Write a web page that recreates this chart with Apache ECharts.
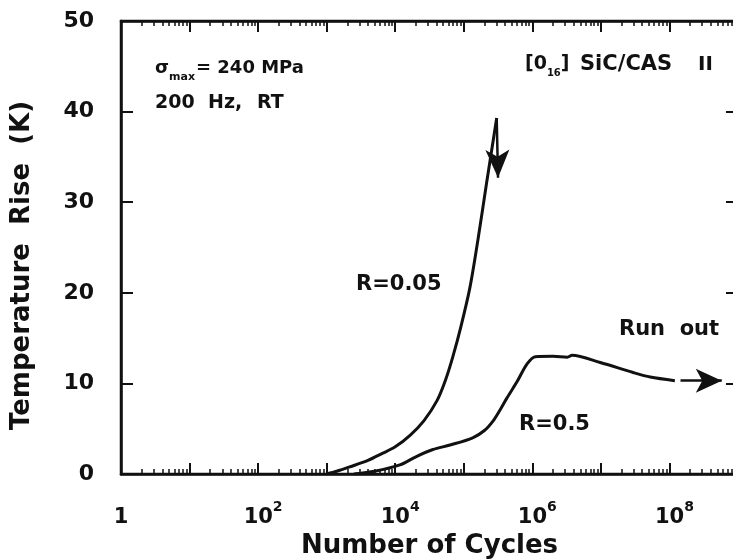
<!DOCTYPE html>
<html><head><meta charset="utf-8">
<script src="https://cdn.jsdelivr.net/npm/echarts@6/dist/echarts.min.js"></script>
<style>html,body{margin:0;padding:0;background:#fff}#c{width:733px;height:560px}</style>
</head><body><div id="c"></div>
<script>
// ---- data ----
const cyclesR005 = [1000, 1400, 2200, 4000, 6600, 10000, 16600, 26300, 40700, 53700, 69000, 91000, 123000, 162000, 214000, 302000];
const tempR005   = [0,    0.3,  0.8,  1.5,  2.3,  3.0,   4.3,   5.9,   8.1,   10.3,  12.9,  16.3,  20.6,   26.0,   32.0,   39.3];
const cyclesR05  = [2500, 5000, 11700, 20000, 35500, 63000, 135000, 200000, 270000, 340000, 427000, 600000, 830000, 1100000, 2000000, 3240000, 3800000, 9800000, 29500000, 52500000, 120000000];
const tempR05    = [0,    0.3,  1.0,   1.9,   2.7,   3.2,   4.0,    4.8,    5.9,    7.1,    8.4,    10.2,   12.1,   12.95,   13.0,    12.9,    13.1,    12.3,    11.2,     10.7,     10.3];
const yTicks = [0, 10, 20, 30, 40, 50];
const xLabelExponents = [0, 2, 4, 6, 8];
const failArrow = [[302000, 39.3], [316000, 32.7]];
const runOutArrow = [[145000000, 10.3], [580000000, 10.3]];

const FONT = 'DejaVu Sans';
const black = '#111';

function pairs(xs, ys) { return xs.map((x, i) => [x, ys[i]]); }
function lineOf(onZero) {
  const o = {show: true, lineStyle: {color: black, width: 2.5}};
  if (onZero === false) o.onZero = false;
  return o;
}

const chart = echarts.init(document.getElementById('c'), null, {renderer: 'canvas'});
const txt = (size) => ({fontSize: size, fontWeight: 'bold', fontFamily: FONT, fill: black});

chart.setOption({
  animation: false,
  backgroundColor: '#fff',
  grid: {left: 121, width: 617, top: 21, bottom: 86, containLabel: false, outerBoundsMode: 'none',
    show: true, borderColor: black, borderWidth: 2.5, backgroundColor: 'transparent'},
  xAxis: [
    {
      type: 'log', logBase: 10, min: 1, max: 1e9, position: 'bottom',
      axisLine: lineOf(),
      axisTick: {show: true, inside: true, length: 11, lineStyle: {color: black, width: 2}},
      minorTick: {show: true, splitNumber: 9, length: 5, lineStyle: {color: black, width: 1.5}},
      splitLine: {show: false}, minorSplitLine: {show: false},
      axisLabel: {
        margin: 26, fontSize: 21, fontWeight: 'bold', fontFamily: FONT, color: black,
        formatter: function (v) {
          const e = Math.round(Math.log10(v));
          if (xLabelExponents.indexOf(e) < 0) return '';
          return e === 0 ? '{b|1}' : '{p|}{b|10}{s|' + e + '}';
        },
        rich: {
          p: {width: 10, lineHeight: 28},
          b: {fontSize: 21, fontWeight: 'bold', fontFamily: FONT, color: black, lineHeight: 28, verticalAlign: 'bottom'},
          s: {fontSize: 14, fontWeight: 'bold', fontFamily: FONT, color: black, lineHeight: 13, verticalAlign: 'top'}
        }
      },
      name: 'Number of Cycles', nameLocation: 'middle', nameGap: 54,
      nameTextStyle: {fontSize: 26, fontWeight: 'bold', fontFamily: FONT, color: black}
    },
    {
      type: 'log', logBase: 10, min: 1, max: 1e9, position: 'top',
      axisLine: lineOf(false),
      axisTick: {show: true, inside: true, length: 11, lineStyle: {color: black, width: 2}},
      minorTick: {show: true, splitNumber: 9, length: 5, lineStyle: {color: black, width: 1.5}},
      splitLine: {show: false}, axisLabel: {show: false}
    }
  ],
  yAxis: [
    {
      type: 'value', min: 0, max: 50, interval: 10, position: 'left',
      axisLine: lineOf(false),
      axisTick: {show: true, inside: true, length: 12, lineStyle: {color: black, width: 2}},
      splitLine: {show: false},
      axisLabel: {margin: 27, fontSize: 22, fontWeight: 'bold', fontFamily: FONT, color: black,
        formatter: v => (yTicks.indexOf(v) >= 0 ? String(v) : '')},
      name: 'Temperature  Rise  (K)', nameLocation: 'middle', nameGap: 86, nameRotate: 90,
      nameTextStyle: {fontSize: 26, fontWeight: 'bold', fontFamily: FONT, color: black, padding: [0, 36, 0, 0]}
    },
    {
      type: 'value', min: 0, max: 50, interval: 10, position: 'right',
      axisLine: lineOf(false),
      axisTick: {show: true, inside: true, length: 12, lineStyle: {color: black, width: 2}},
      splitLine: {show: false}, axisLabel: {show: false}
    }
  ],
  series: [
    {
      name: 'R=0.05', type: 'line', xAxisIndex: 0, yAxisIndex: 0,
      data: pairs(cyclesR005, tempR005), smooth: 0.3, showSymbol: false, symbol: 'none',
      lineStyle: {color: black, width: 3},
      markLine: {
        silent: true, symbol: ['none', 'arrow'], symbolSize: [18, 28],
        lineStyle: {color: black, width: 2.5, type: 'solid'}, label: {show: false},
        data: [[{coord: failArrow[0]}, {coord: failArrow[1]}]]
      }
    },
    {
      name: 'R=0.5', type: 'line', xAxisIndex: 0, yAxisIndex: 0,
      data: pairs(cyclesR05, tempR05), smooth: 0.3, showSymbol: false, symbol: 'none',
      lineStyle: {color: black, width: 3},
      markLine: {
        silent: true, symbol: ['none', 'arrow'], symbolSize: [18, 26],
        lineStyle: {color: black, width: 2.5, type: 'solid'}, label: {show: false},
        data: [[{coord: runOutArrow[0]}, {coord: runOutArrow[1]}]]
      }
    }
  ],
  graphic: [
    {type: 'text', left: 155, top: 59, silent: true, style: {
      text: '{a|σ}{b|max}{a|= 240 MPa}', fill: black,
      rich: {
        a: Object.assign(txt(18), {verticalAlign: 'top'}),
        b: Object.assign(txt(11), {verticalAlign: 'bottom', padding: [13, 1, 0, 0]})
      }}},
    {type: 'text', left: 155, top: 94, silent: true, style: Object.assign(txt(19), {text: '200'})},
    {type: 'text', left: 208, top: 94, silent: true, style: Object.assign(txt(19), {text: 'Hz,'})},
    {type: 'text', left: 257, top: 94, silent: true, style: Object.assign(txt(19), {text: 'RT'})},
    {type: 'text', left: 525, top: 55, silent: true, style: {
      text: '{a|[0}{b|16}{a|]}', fill: black,
      rich: {
        a: Object.assign(txt(19), {verticalAlign: 'top'}),
        b: Object.assign(txt(10), {verticalAlign: 'bottom', padding: [13, 0, 0, 0]})
      }}},
    {type: 'text', left: 580, top: 54, silent: true, style: Object.assign(txt(21), {text: 'SiC/CAS'})},
    {type: 'text', left: 698, top: 55, silent: true, style: Object.assign(txt(20), {text: 'II'})},
    {type: 'text', left: 356, top: 274, silent: true, style: Object.assign(txt(21), {text: 'R=0.05'})},
    {type: 'text', left: 619, top: 319, silent: true, style: Object.assign(txt(21), {text: 'Run  out'})},
    {type: 'text', left: 519, top: 414, silent: true, style: Object.assign(txt(21), {text: 'R=0.5'})}
  ]
});
</script>
</body></html>
